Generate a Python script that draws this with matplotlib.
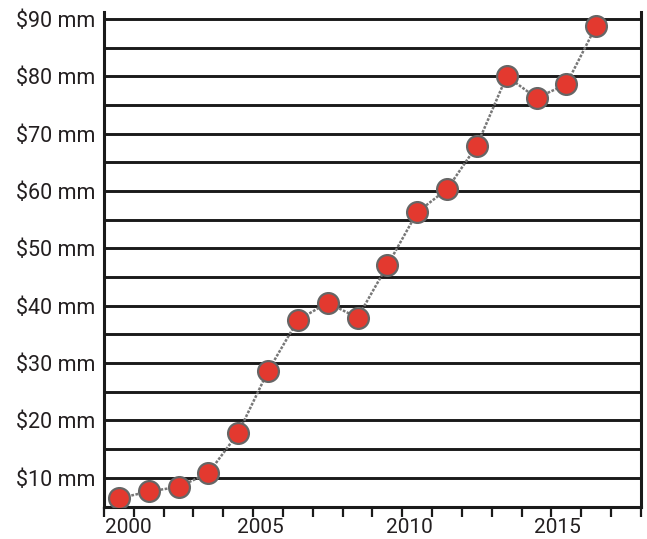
import numpy as np
import matplotlib
matplotlib.use('Agg')
import matplotlib.pyplot as plt

years = np.arange(2000, 2017)
amount = [6.4, 7.6, 8.4, 10.8, 17.8, 28.6, 37.5, 40.5, 37.9, 47.0,
          56.3, 60.3, 67.9, 80.0, 76.2, 78.6, 88.8]
label_pos = [2000.3, 2004.73, 2009.72, 2014.7]
label_txt = ['2000', '2005', '2010', '2015']
y_major = list(range(10, 100, 10))
y_labels = ['$%d mm' % v for v in y_major]

plt.rcParams['font.family'] = ['Roboto', 'DejaVu Sans']

fig = plt.figure(figsize=(6.47, 5.39), dpi=100)
ax = fig.add_axes([0.1607, 0.0594, 0.83, 0.9184])

ax.plot(years, amount, linestyle=(0, (1.1, 0.6)), color='#777777', lw=1.8,
        marker='o', markersize=15, markerfacecolor='#e3392f',
        markeredgecolor='#666666', markeredgewidth=1.6, zorder=3)

ax.set_xlim(1999.5, 2017.5)
ax.set_ylim(4.9, 91.2)

# year ticks sit between points, labels placed separately
ax.set_xticks(label_pos)
ax.set_xticklabels(label_txt, fontsize=15, color='#231f20')
ax.set_xticks(np.arange(1999.5, 2018, 1.0), minor=True)
ax.tick_params(axis='x', which='major', length=0, pad=8)
ax.tick_params(axis='x', which='minor', length=7, width=1.6, direction='out',
               color='#1a1a1a')

ax.set_yticks(y_major)
ax.set_yticklabels(y_labels, fontsize=15.5, color='#231f20')
ax.set_yticks(range(15, 90, 10), minor=True)
ax.tick_params(axis='y', which='both', length=0, pad=6)
ax.grid(axis='y', which='both', color='#1a1a1a', lw=2.1)
ax.set_axisbelow(True)

for s in ['left', 'right', 'bottom']:
    ax.spines[s].set_linewidth(2.2)
    ax.spines[s].set_color('#1a1a1a')
ax.spines['top'].set_visible(False)

fig.savefig('out.png', dpi=100)
